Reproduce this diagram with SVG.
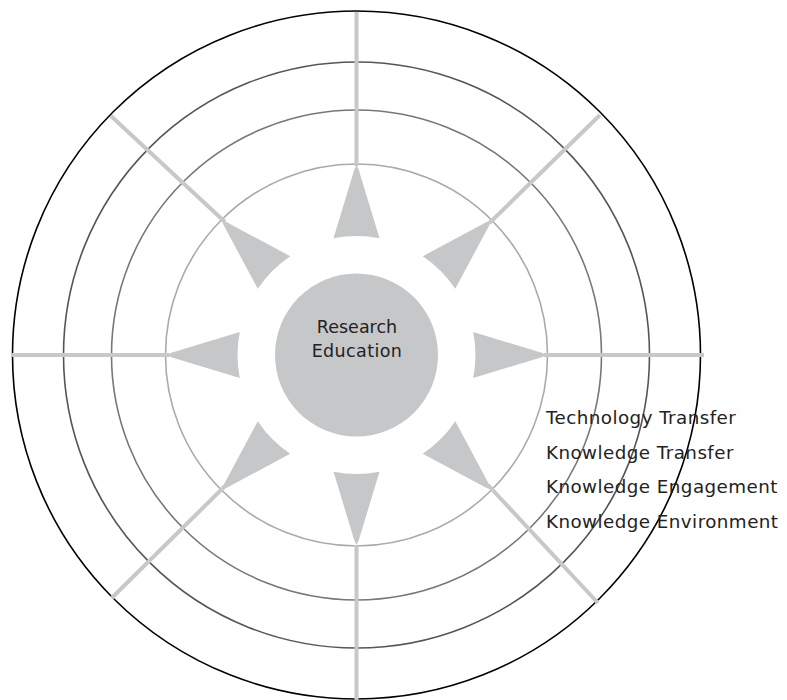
<svg xmlns="http://www.w3.org/2000/svg" width="787" height="700" viewBox="0 0 787 700">
<style>
.ring{fill:none;stroke-width:1.6}
.spoke{stroke:#c8c8c9;stroke-width:4;fill:none}
.arrow{fill:#c6c7c9}
.lbl{font-family:"DejaVu Sans",sans-serif;fill:#222}
.side{font-size:18.3px;letter-spacing:0.45px}
</style>
<defs>
<path id="pt" d="M0,-190 L2,-186 L23,-116.7 A119,119 0 0 0 -23,-116.7 L-2,-186 Z"/>
</defs>
<rect width="787" height="700" fill="#fff"/>
<g id="rings">
<circle class="ring" cx="356.5" cy="355" r="344" stroke="#000"/>
<circle class="ring" cx="356.5" cy="355" r="293" stroke="#555"/>
<circle class="ring" cx="356.5" cy="355" r="245" stroke="#777"/>
<circle class="ring" cx="356.5" cy="355" r="191" stroke="#aaa"/>
</g>
<g id="connectors">
<line class="spoke" x1="356.5" y1="12" x2="356.5" y2="166"/>
<line class="spoke" x1="356.5" y1="545" x2="356.5" y2="700"/>
<line class="spoke" x1="11" y1="355" x2="169" y2="355"/>
<line class="spoke" x1="544" y1="355" x2="704" y2="355"/>
<line class="spoke" x1="111" y1="116" x2="225" y2="222"/>
<line class="spoke" x1="600" y1="115" x2="489.5" y2="223"/>
<line class="spoke" x1="111.7" y1="598" x2="225" y2="486"/>
<line class="spoke" x1="598" y1="603" x2="488" y2="485"/>
</g>
<g id="arrows" transform="translate(356.5,355)">
<use href="#pt" class="arrow"/>
<use href="#pt" class="arrow" transform="rotate(45)"/>
<use href="#pt" class="arrow" transform="rotate(90)"/>
<use href="#pt" class="arrow" transform="rotate(135)"/>
<use href="#pt" class="arrow" transform="rotate(180)"/>
<use href="#pt" class="arrow" transform="rotate(225)"/>
<use href="#pt" class="arrow" transform="rotate(270)"/>
<use href="#pt" class="arrow" transform="rotate(315)"/>
</g>
<g id="center">
<circle cx="356.5" cy="355" r="81.5" fill="#c6c7c9"/>
<text class="lbl" x="357" y="333" font-size="17.5" text-anchor="middle">Research</text>
<text class="lbl" x="357" y="357" font-size="17.5" text-anchor="middle" letter-spacing="0.4">Education</text>
</g>
<g id="labels">
<text class="lbl side" x="546" y="424">Technology Transfer</text>
<text class="lbl side" x="546" y="459">Knowledge Transfer</text>
<text class="lbl side" x="546" y="493">Knowledge Engagement</text>
<text class="lbl side" x="546" y="528">Knowledge Environment</text>
</g>
</svg>
